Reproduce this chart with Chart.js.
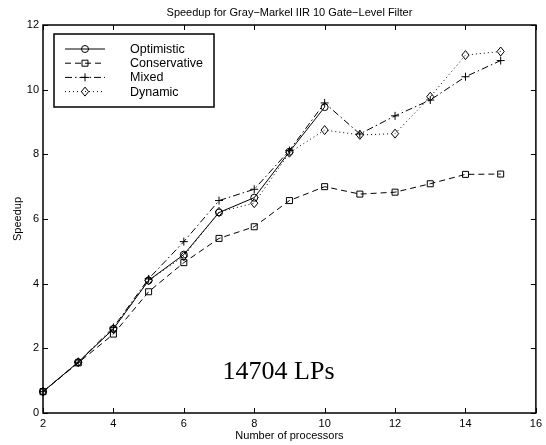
<!DOCTYPE html>
<html>
<head>
<meta charset="utf-8">
<script src="https://cdn.jsdelivr.net/npm/chart.js@4/dist/chart.umd.min.js"></script>
<style>
  html, body { margin: 0; padding: 0; background: #fff; }
  #wrap { width: 546px; height: 445px; position: relative; }
</style>
</head>
<body>
<div id="wrap"><canvas id="myChart" width="546" height="445"></canvas></div>
<script>
// data
const procs = [2, 3, 4, 5, 6, 7, 8, 9, 10, 11, 12, 13, 14, 15];
const optimistic   = [0.66, 1.57, 2.60, 4.10, 4.90, 6.20, 6.66, 8.08, 9.46];
const conservative = [0.66, 1.55, 2.44, 3.75, 4.65, 5.40, 5.76, 6.57, 7.00, 6.77, 6.83, 7.09, 7.38, 7.39];
const mixed        = [0.66, 1.57, 2.65, 4.15, 5.30, 6.57, 6.92, 8.12, 9.59, 8.63, 9.19, 9.68, 10.40, 10.90];
const dynamic      = [0.66, 1.57, 2.60, 4.10, 4.85, 6.22, 6.49, 8.05, 8.75, 8.60, 8.64, 9.78, 11.07, 11.18];
const seriesNames = ["Optimistic", "Conservative", "Mixed", "Dynamic"];
const xTicks = [2, 4, 6, 8, 10, 12, 14, 16];
const yTicks = [0, 2, 4, 6, 8, 10, 12];

const sans = '"Liberation Sans", Arial, sans-serif';

function pts(vals) {
  return vals.map((v, i) => ({ x: procs[i], y: v }));
}

function drawMarker(ctx, style, r, x, y) {
  ctx.save();
  ctx.setLineDash([]);
  ctx.beginPath();
  if (style === 'circle') {
    ctx.arc(x, y, r, 0, Math.PI * 2);
  } else if (style === 'rect') {
    ctx.rect(x - r, y - r, 2 * r, 2 * r);
  } else if (style === 'cross') {
    ctx.moveTo(x - r, y); ctx.lineTo(x + r, y);
    ctx.moveTo(x, y - r); ctx.lineTo(x, y + r);
  } else if (style === 'rectRot') {
    ctx.moveTo(x, y - r); ctx.lineTo(x + r * 0.8, y);
    ctx.lineTo(x, y + r); ctx.lineTo(x - r * 0.8, y);
    ctx.closePath();
  }
  ctx.stroke();
  ctx.restore();
}

const styles = [
  { dash: [], marker: 'circle', r: 3.5 },
  { dash: [6, 4], marker: 'rect', r: 3 },
  { dash: [7, 3, 1.5, 3], marker: 'cross', r: 4 },
  { dash: [1, 3], marker: 'rectRot', r: 4.5 }
];

const seriesData = [optimistic, conservative, mixed, dynamic];

// frame, inward ticks, titles, legend and note
const decor = {
  id: 'decor',
  afterDatasetsDraw(chart) {
    const ctx = chart.ctx;
    const a = chart.chartArea;
    const xs = chart.scales.x, ys = chart.scales.y;

    // markers drawn on top of lines
    chart.data.datasets.forEach((ds, i) => {
      ctx.save();
      ctx.strokeStyle = '#000';
      ctx.lineWidth = 1;
      ds.data.forEach(p => {
        drawMarker(ctx, styles[i].marker, styles[i].r, xs.getPixelForValue(p.x), ys.getPixelForValue(p.y));
      });
      ctx.restore();
    });

    ctx.save();
    ctx.strokeStyle = '#000';
    ctx.lineWidth = 1.5;
    ctx.strokeRect(a.left, a.top, a.right - a.left, a.bottom - a.top);
    ctx.lineWidth = 1;
    ctx.beginPath();
    xTicks.forEach(t => {
      const px = Math.round(xs.getPixelForValue(t)) + 0.5;
      ctx.moveTo(px, a.bottom); ctx.lineTo(px, a.bottom - 5);
      ctx.moveTo(px, a.top); ctx.lineTo(px, a.top + 5);
    });
    yTicks.forEach(t => {
      const py = Math.round(ys.getPixelForValue(t)) + 0.5;
      ctx.moveTo(a.left, py); ctx.lineTo(a.left + 5, py);
      ctx.moveTo(a.right, py); ctx.lineTo(a.right - 5, py);
    });
    ctx.stroke();

    // titles
    ctx.fillStyle = '#000';
    ctx.font = '11px ' + sans;
    ctx.textAlign = 'center';
    ctx.textBaseline = 'middle';
    const cx = (a.left + a.right) / 2;
    ctx.fillText('Speedup for Gray\u2212Markel IIR 10 Gate\u2212Level Filter', cx, 13);
    ctx.fillText('Number of processors', cx, 436);
    ctx.save();
    ctx.translate(18, (a.top + a.bottom) / 2);
    ctx.rotate(-Math.PI / 2);
    ctx.fillText('Speedup', 0, 0);
    ctx.restore();

    // note
    ctx.font = '26px "Liberation Serif", "Times New Roman", serif';
    ctx.textAlign = 'left';
    ctx.textBaseline = 'alphabetic';
    ctx.fillText('14704 LPs', xs.getPixelForValue(7.1), ys.getPixelForValue(1.05));

    // legend
    const lx = 54, ly = 34, lw = 160, lh = 73;
    ctx.fillStyle = '#fff';
    ctx.fillRect(lx, ly, lw, lh);
    ctx.lineWidth = 1.5;
    ctx.strokeRect(lx, ly, lw, lh);
    ctx.lineWidth = 1;
    ctx.font = '12.5px ' + sans;
    ctx.textBaseline = 'middle';
    seriesNames.forEach((name, i) => {
      const y = ly + 15 + i * 14.2;
      ctx.save();
      ctx.setLineDash(styles[i].dash);
      ctx.beginPath();
      ctx.moveTo(65, y); ctx.lineTo(105, y);
      ctx.stroke();
      ctx.restore();
      drawMarker(ctx, styles[i].marker, styles[i].r, 85, y);
      ctx.fillStyle = '#000';
      ctx.fillText(name, 130, y + 0.5);
    });
    ctx.restore();
  }
};

const ctx = document.getElementById("myChart").getContext('2d');
const myChart = new Chart(ctx, {
  type: 'line',
  data: {
    datasets: seriesNames.map((name, i) => ({
      label: name,
      data: pts(seriesData[i]),
      borderColor: '#000',
      borderWidth: 1,
      borderDash: styles[i].dash,
      pointRadius: 0,
      fill: false,
      tension: 0
    }))
  },
  options: {
    responsive: false,
    animation: false,
    layout: { padding: { top: 25, right: 9, left: 0, bottom: 0 } },
    plugins: { legend: { display: false }, tooltip: { enabled: false } },
    scales: {
      x: {
        type: 'linear', min: 2, max: 16,
        afterFit: s => { s.height = 32; },
        afterBuildTicks: s => { s.ticks = xTicks.map(v => ({ value: v })); },
        grid: { display: false, drawTicks: false },
        border: { display: false },
        ticks: { color: '#000', font: { family: sans, size: 11 }, padding: 4, maxRotation: 0 }
      },
      y: {
        min: 0, max: 12,
        afterFit: s => { s.width = 43; },
        afterBuildTicks: s => { s.ticks = yTicks.map(v => ({ value: v })); },
        grid: { display: false, drawTicks: false },
        border: { display: false },
        ticks: { color: '#000', font: { family: sans, size: 11 }, padding: 4 }
      }
    }
  },
  plugins: [decor]
});
</script>
</body>
</html>
